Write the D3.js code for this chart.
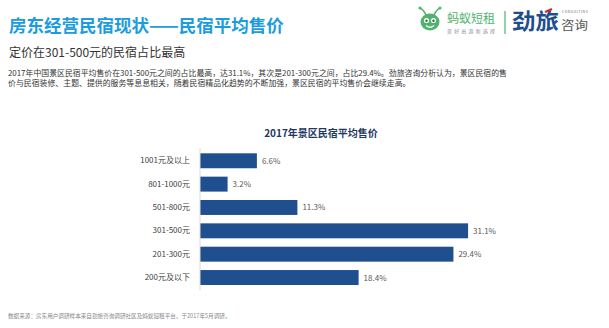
<!DOCTYPE html>
<html>
<head>
<meta charset="utf-8">
<script src="https://cdn.jsdelivr.net/npm/d3@7/dist/d3.min.js"></script>
<style>
  html, body { margin: 0; padding: 0; background: #fff; }
  svg { display: block; font-family: "Noto Sans CJK SC", "Noto Sans", sans-serif; }
</style>
</head>
<body>
<svg id="chart" width="609" height="328"></svg>
<script>
// Price bands of scenic-area homestays, top to bottom as drawn
const categories = ["1001元及以上", "801-1000元", "501-800元", "301-500元", "201-300元", "200元及以下"];
// Share of homestays in each price band (%)
const shares = [6.6, 3.2, 11.3, 31.1, 29.4, 18.4];

const pageTitle = "房东经营民宿现状——民宿平均售价";
const pageSubtitle = "定价在301-500元的民宿占比最高";
const bodyLines = [
  "2017年中国景区民宿平均售价在301-500元之间的占比最高，达31.1%，其次是201-300元之间，占比29.4%。劲旅咨询分析认为，景区民宿的售",
  "价与民宿装修、主题、提供的服务等息息相关，随着民宿精品化趋势的不断加强，景区民宿的平均售价会继续走高。"
];
const chartTitle = "2017年景区民宿平均售价";
const sourceNote = "数据来源：房东用户调研样本来自劲旅咨询调研社区及蚂蚁短租平台，于2017年5月调研。";

const svg = d3.select("#chart");

// ---- Header texts ----
svg.append("text")
  .attr("x", 9).attr("y", 32)
  .attr("font-size", 17.5).attr("font-weight", "bold")
  .attr("fill", "#1c9ce0")
  .text(pageTitle);

svg.append("text")
  .attr("x", 9).attr("y", 57)
  .attr("font-size", 12).attr("fill", "#333")
  .text(pageSubtitle);

svg.append("g").selectAll("text")
  .data(bodyLines)
  .join("text")
  .attr("x", 8)
  .attr("y", (d, i) => 76 + i * 10)
  .attr("font-size", 7.9)
  .attr("fill", "#333")
  .attr("textLength", (d, i) => i === 0 ? 499 : null)
  .attr("lengthAdjust", "spacingAndGlyphs")
  .text(d => d);

// ---- Logos ----
const logo = svg.append("g");
// ant mascot
const ant = logo.append("g").attr("transform", "translate(430,22)");
ant.append("path").attr("d", "M-4,-7 Q-7,-13 -10,-14").attr("stroke", "#4fb36c").attr("stroke-width", 1.6).attr("fill", "none");
ant.append("path").attr("d", "M4,-7 Q7,-13 10,-14").attr("stroke", "#4fb36c").attr("stroke-width", 1.6).attr("fill", "none");
ant.append("circle").attr("cx", -10).attr("cy", -14).attr("r", 1.5).attr("fill", "#4fb36c");
ant.append("circle").attr("cx", 10).attr("cy", -14).attr("r", 1.5).attr("fill", "#4fb36c");
ant.append("ellipse").attr("rx", 9.5).attr("ry", 8.5).attr("fill", "#4fb36c");
ant.append("circle").attr("cx", -3.5).attr("cy", -1.5).attr("r", 2.6).attr("fill", "#fff");
ant.append("circle").attr("cx", 3.5).attr("cy", -1.5).attr("r", 2.6).attr("fill", "#fff");
ant.append("circle").attr("cx", -3.5).attr("cy", -1.2).attr("r", 1.2).attr("fill", "#2c6b3f");
ant.append("circle").attr("cx", 3.5).attr("cy", -1.2).attr("r", 1.2).attr("fill", "#2c6b3f");
ant.append("path").attr("d", "M-4,3.5 Q0,7 4,3.5").attr("stroke", "#fff").attr("stroke-width", 1.3).attr("fill", "none");

logo.append("text")
  .attr("x", 447).attr("y", 22.5)
  .attr("font-size", 12).attr("fill", "#4fb36c")
  .text("蚂蚁短租");
logo.append("text")
  .attr("x", 447).attr("y", 33)
  .attr("font-size", 5).attr("fill", "#8a8a8a")
  .attr("textLength", 48)
  .text("美好出游新选择");
logo.append("line")
  .attr("x1", 505).attr("x2", 505).attr("y1", 11).attr("y2", 34)
  .attr("stroke", "#4fb36c").attr("stroke-width", 1.2);
logo.append("text")
  .attr("x", 512).attr("y", 29)
  .attr("font-size", 22).attr("font-weight", "bold").attr("fill", "#1f4e8f")
  .attr("textLength", 47)
  .attr("lengthAdjust", "spacingAndGlyphs")
  .text("劲旅");
logo.append("path")
  .attr("d", "M545,12 L552,9")
  .attr("stroke", "#d8232a").attr("stroke-width", 2);
logo.append("text")
  .attr("x", 561).attr("y", 30)
  .attr("font-size", 12).attr("fill", "#555")
  .attr("textLength", 27)
  .attr("lengthAdjust", "spacingAndGlyphs")
  .text("咨询");
logo.append("text")
  .attr("x", 562).attr("y", 13)
  .attr("font-size", 3.4).attr("fill", "#666")
  .attr("textLength", 26)
  .text("CONSULTING");

// ---- Bar chart ----
const x = d3.scaleLinear().domain([0, 35]).range([200, 501.7]);
const y = d3.scaleBand().domain(categories).range([144.9, 293.4]).padding(0.36);

svg.append("text")
  .attr("x", 321).attr("y", 137)
  .attr("text-anchor", "middle")
  .attr("font-size", 10).attr("font-weight", "bold")
  .attr("fill", "#1f3864")
  .text(chartTitle);

const rows = categories.map((c, i) => ({ cat: c, val: shares[i] }));

svg.append("g").selectAll("rect")
  .data(rows)
  .join("rect")
  .attr("x", x(0))
  .attr("y", d => y(d.cat))
  .attr("width", d => x(d.val) - x(0))
  .attr("height", y.bandwidth())
  .attr("fill", "#1f4f8f");

svg.append("g").selectAll("text")
  .data(rows)
  .join("text")
  .attr("x", d => x(d.val) + 5)
  .attr("y", d => y(d.cat) + y.bandwidth() / 2 + 3)
  .attr("font-size", 8)
  .attr("fill", "#595959")
  .text(d => d.val.toFixed(1) + "%");

const axis = svg.append("g")
  .attr("transform", `translate(${x(0)},0)`)
  .call(d3.axisLeft(y).tickSize(0).tickPadding(10));
axis.select(".domain").attr("stroke", "#d9d9d9").attr("d", "M0,148V290");
axis.selectAll("text")
  .attr("font-size", 8)
  .attr("fill", "#404040")
  .attr("font-family", "\"Noto Sans CJK SC\", sans-serif");

// ---- Footnote ----
svg.append("text")
  .attr("x", 8).attr("y", 318)
  .attr("font-size", 5.6).attr("fill", "#888")
  .text(sourceNote);
</script>
</body>
</html>
